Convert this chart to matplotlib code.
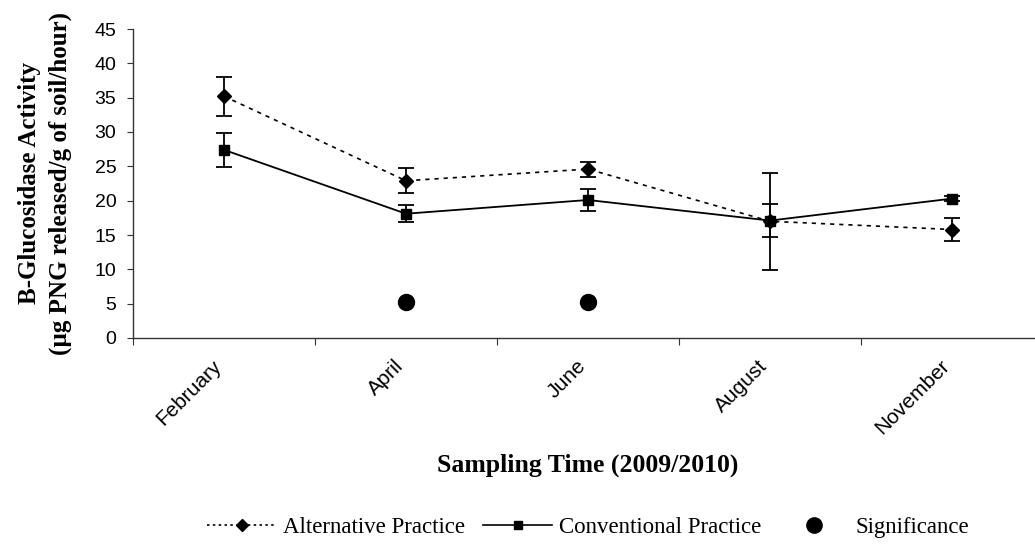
import matplotlib
matplotlib.use("Agg")
import matplotlib.pyplot as plt
import matplotlib.transforms as mtransforms
from matplotlib.lines import Line2D

months = ["February", "April", "June", "August", "November"]
alternative = [35.2, 22.9, 24.6, 17.0, 15.8]
alternative_err = [2.8, 1.8, 1.1, 7.1, 1.65]
conventional = [27.4, 18.1, 20.1, 17.1, 20.3]
conventional_err = [2.5, 1.2, 1.6, 2.4, 0.4]
sig_months = [1, 2]
sig_values = [5.2, 5.2]

x = list(range(len(months)))

fig = plt.figure(figsize=(10.35, 5.51), dpi=100)
ax = fig.add_axes([133 / 1035, 1 - 338 / 551, 910 / 1035, 309 / 551])

ax.errorbar(x, alternative, yerr=alternative_err, color="black", lw=1.2,
            ls=(0, (2.5, 3)), marker="D", ms=7.5, capsize=6, elinewidth=1.3,
            capthick=1.3, zorder=3)
ax.errorbar(x, conventional, yerr=conventional_err, color="black", lw=1.3,
            ls="-", marker="s", ms=7.5, capsize=6, elinewidth=1.3,
            capthick=1.3, zorder=4)
ax.plot(sig_months, sig_values, "o", color="black", ms=11.5, ls="none")

ax.set_xlim(-0.5, 4.5)
ax.set_ylim(0, 45)
ax.set_yticks(range(0, 46, 5))

for s in ["top", "right"]:
    ax.spines[s].set_visible(False)
for s in ["left", "bottom"]:
    ax.spines[s].set_color("#333333")
    ax.spines[s].set_linewidth(1.0)

# boundary ticks without labels, month labels centred between them
ax.set_xticks([i - 0.5 for i in range(6)])
ax.set_xticklabels([])
ax.set_xticks(x, minor=True)
ax.set_xticklabels(months, minor=True, rotation=45, ha="right",
                   rotation_mode="anchor", family="Liberation Sans", fontsize=15)
ax.tick_params(axis="x", which="major", length=5, color="#333333")
ax.tick_params(axis="x", which="minor", length=0, pad=13)
ax.tick_params(axis="y", length=4, pad=8, labelsize=14, color="#333333")
for t in ax.get_yticklabels():
    t.set_family("Liberation Sans")
shift = mtransforms.ScaledTranslation(-12 / 100, 0, fig.dpi_scale_trans)
for t in ax.get_xticklabels(minor=True):
    t.set_transform(t.get_transform() + shift)

ax.set_ylabel("B-Glucosidase Activity\n(µg PNG released/g of soil/hour)",
              family="Liberation Serif", fontweight="bold", fontsize=18,
              linespacing=1.45)
ax.yaxis.set_label_coords(-0.067, 0.5)
ax.set_xlabel("Sampling Time (2009/2010)", family="Liberation Serif",
              fontweight="bold", fontsize=18.5)
ax.xaxis.set_label_coords(0.5, -0.375)

handles = [
    Line2D([], [], color="black", ls=(0, (1.5, 2)), lw=1.2, marker="D", ms=6),
    Line2D([], [], color="black", ls="-", lw=1.2, marker="s", ms=6),
    Line2D([], [], color="black", ls="none", marker="o", ms=11),
]
labels = ["Alternative Practice", "Conventional Practice", "Significance"]
fig.legend(handles, labels, loc="center", bbox_to_anchor=(588 / 1035, 1 - 527 / 551),
           ncol=3, frameon=False, prop={"family": "Liberation Serif", "size": 16.5},
           handlelength=3.0, handletextpad=0.3, columnspacing=0.8)

fig.savefig("out.png", dpi=100)
